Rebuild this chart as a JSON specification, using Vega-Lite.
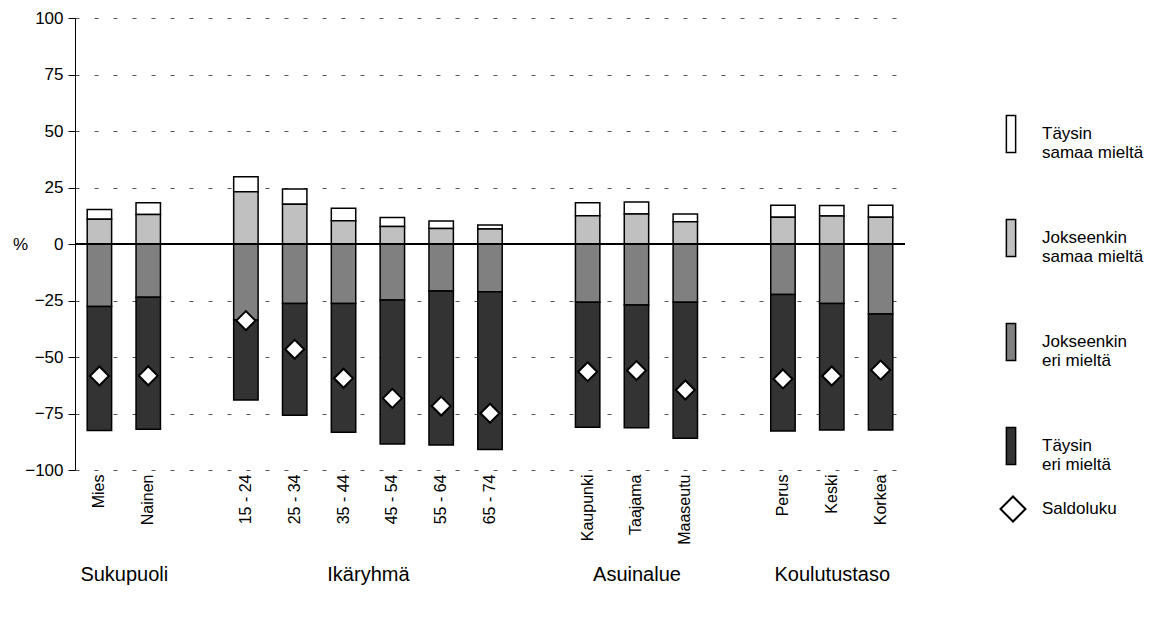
{
  "$schema": "https://vega.github.io/schema/vega-lite/v6.json",
  "width": 830,
  "height": 452,
  "autosize": {"type": "none"},
  "padding": {"left": 75, "top": 18, "right": 247, "bottom": 149},
  "background": "white",
  "config": {"view": {"stroke": null}, "font": "Liberation Sans"},
  "datasets": {
    "bars": [
      {"category": "Mies", "series": "Täysin samaa mieltä", "value": 4.4},
      {"category": "Mies", "series": "Jokseenkin samaa mieltä", "value": 10.9},
      {"category": "Mies", "series": "Jokseenkin eri mieltä", "value": -27.7},
      {"category": "Mies", "series": "Täysin eri mieltä", "value": -54.8},
      {"category": "Nainen", "series": "Täysin samaa mieltä", "value": 5.2},
      {"category": "Nainen", "series": "Jokseenkin samaa mieltä", "value": 13.1},
      {"category": "Nainen", "series": "Jokseenkin eri mieltä", "value": -23.6},
      {"category": "Nainen", "series": "Täysin eri mieltä", "value": -58.4},
      {"category": "15 - 24", "series": "Täysin samaa mieltä", "value": 6.7},
      {"category": "15 - 24", "series": "Jokseenkin samaa mieltä", "value": 23.1},
      {"category": "15 - 24", "series": "Jokseenkin eri mieltä", "value": -33.5},
      {"category": "15 - 24", "series": "Täysin eri mieltä", "value": -35.5},
      {"category": "25 - 34", "series": "Täysin samaa mieltä", "value": 6.7},
      {"category": "25 - 34", "series": "Jokseenkin samaa mieltä", "value": 17.6},
      {"category": "25 - 34", "series": "Jokseenkin eri mieltä", "value": -26.3},
      {"category": "25 - 34", "series": "Täysin eri mieltä", "value": -49.5},
      {"category": "35 - 44", "series": "Täysin samaa mieltä", "value": 5.5},
      {"category": "35 - 44", "series": "Jokseenkin samaa mieltä", "value": 10.3},
      {"category": "35 - 44", "series": "Jokseenkin eri mieltä", "value": -26.3},
      {"category": "35 - 44", "series": "Täysin eri mieltä", "value": -57.0},
      {"category": "45 - 54", "series": "Täysin samaa mieltä", "value": 4.0},
      {"category": "45 - 54", "series": "Jokseenkin samaa mieltä", "value": 7.7},
      {"category": "45 - 54", "series": "Jokseenkin eri mieltä", "value": -24.8},
      {"category": "45 - 54", "series": "Täysin eri mieltä", "value": -63.7},
      {"category": "55 - 64", "series": "Täysin samaa mieltä", "value": 3.3},
      {"category": "55 - 64", "series": "Jokseenkin samaa mieltä", "value": 6.9},
      {"category": "55 - 64", "series": "Jokseenkin eri mieltä", "value": -20.8},
      {"category": "55 - 64", "series": "Täysin eri mieltä", "value": -68.1},
      {"category": "65 - 74", "series": "Täysin samaa mieltä", "value": 1.8},
      {"category": "65 - 74", "series": "Jokseenkin samaa mieltä", "value": 6.6},
      {"category": "65 - 74", "series": "Jokseenkin eri mieltä", "value": -21.1},
      {"category": "65 - 74", "series": "Täysin eri mieltä", "value": -69.8},
      {"category": "Kaupunki", "series": "Täysin samaa mieltä", "value": 5.8},
      {"category": "Kaupunki", "series": "Jokseenkin samaa mieltä", "value": 12.5},
      {"category": "Kaupunki", "series": "Jokseenkin eri mieltä", "value": -25.8},
      {"category": "Kaupunki", "series": "Täysin eri mieltä", "value": -55.3},
      {"category": "Taajama", "series": "Täysin samaa mieltä", "value": 5.3},
      {"category": "Taajama", "series": "Jokseenkin samaa mieltä", "value": 13.3},
      {"category": "Taajama", "series": "Jokseenkin eri mieltä", "value": -27.0},
      {"category": "Taajama", "series": "Täysin eri mieltä", "value": -54.3},
      {"category": "Maaseutu", "series": "Täysin samaa mieltä", "value": 3.4},
      {"category": "Maaseutu", "series": "Jokseenkin samaa mieltä", "value": 9.9},
      {"category": "Maaseutu", "series": "Jokseenkin eri mieltä", "value": -25.8},
      {"category": "Maaseutu", "series": "Täysin eri mieltä", "value": -60.2},
      {"category": "Perus", "series": "Täysin samaa mieltä", "value": 5.3},
      {"category": "Perus", "series": "Jokseenkin samaa mieltä", "value": 11.8},
      {"category": "Perus", "series": "Jokseenkin eri mieltä", "value": -22.3},
      {"category": "Perus", "series": "Täysin eri mieltä", "value": -60.4},
      {"category": "Keski", "series": "Täysin samaa mieltä", "value": 4.6},
      {"category": "Keski", "series": "Jokseenkin samaa mieltä", "value": 12.4},
      {"category": "Keski", "series": "Jokseenkin eri mieltä", "value": -26.3},
      {"category": "Keski", "series": "Täysin eri mieltä", "value": -56.0},
      {"category": "Korkea", "series": "Täysin samaa mieltä", "value": 5.3},
      {"category": "Korkea", "series": "Jokseenkin samaa mieltä", "value": 11.8},
      {"category": "Korkea", "series": "Jokseenkin eri mieltä", "value": -31.0},
      {"category": "Korkea", "series": "Täysin eri mieltä", "value": -51.3}
    ],
    "saldo": [
      {"category": "Mies", "measure": "Saldoluku", "saldo": -58.4},
      {"category": "Nainen", "measure": "Saldoluku", "saldo": -58.3},
      {"category": "15 - 24", "measure": "Saldoluku", "saldo": -33.9},
      {"category": "25 - 34", "measure": "Saldoluku", "saldo": -46.6},
      {"category": "35 - 44", "measure": "Saldoluku", "saldo": -59.4},
      {"category": "45 - 54", "measure": "Saldoluku", "saldo": -68.3},
      {"category": "55 - 64", "measure": "Saldoluku", "saldo": -71.7},
      {"category": "65 - 74", "measure": "Saldoluku", "saldo": -74.9},
      {"category": "Kaupunki", "measure": "Saldoluku", "saldo": -56.5},
      {"category": "Taajama", "measure": "Saldoluku", "saldo": -56.0},
      {"category": "Maaseutu", "measure": "Saldoluku", "saldo": -64.6},
      {"category": "Perus", "measure": "Saldoluku", "saldo": -59.7},
      {"category": "Keski", "measure": "Saldoluku", "saldo": -58.4},
      {"category": "Korkea", "measure": "Saldoluku", "saldo": -55.8}
    ],
    "groups": [
      {"group": "Sukupuoli", "pos": 1},
      {"group": "Ikäryhmä", "pos": 6},
      {"group": "Asuinalue", "pos": 11.5},
      {"group": "Koulutustaso", "pos": 15.5}
    ]
  },
  "layer": [
    {
      "layer": [
        {
          "data": {"name": "bars"},
          "mark": {"type": "bar", "stroke": "black", "strokeWidth": 1.5},
          "encoding": {
            "x": {
              "field": "category",
              "type": "nominal",
              "scale": {
                "domain": ["Mies", "Nainen", " ", "15 - 24", "25 - 34", "35 - 44", "45 - 54", "55 - 64", "65 - 74", "  ", "Kaupunki", "Taajama", "Maaseutu", "   ", "Perus", "Keski", "Korkea"],
                "paddingInner": 0.5,
                "paddingOuter": 0.25
              },
              "axis": {
                "title": null,
                "labelAngle": -90,
                "labelAlign": "right",
                "labelBaseline": "middle",
                "labelFontSize": 16,
                "labelFont": "Liberation Sans",
                "labelColor": "black",
                "ticks": false,
                "domain": false,
                "grid": false,
                "labelPadding": 4
              }
            },
            "y": {
              "field": "value",
              "type": "quantitative",
              "stack": "zero",
              "scale": {"domain": [-100, 100], "nice": false},
              "axis": {
                "title": "%",
                "titleAngle": 0,
                "titleX": -55,
                "titleY": 226,
                "titleAlign": "center",
                "titleBaseline": "middle",
                "titleFontSize": 17,
                "titleFontWeight": "normal",
                "titleFont": "Liberation Sans",
                "titleColor": "black",
                "values": [-100, -75, -50, -25, 0, 25, 50, 75, 100],
                "grid": true,
                "gridDash": [4, 15],
                "gridColor": "#555555",
                "gridWidth": 1,
                "gridOpacity": 1,
                "tickColor": "black",
                "tickSize": 7,
                "domainColor": "black",
                "domainWidth": 1,
                "labelFontSize": 17,
                "labelColor": "black",
                "labelPadding": 5
              }
            },
            "fill": {
              "field": "series",
              "type": "nominal",
              "scale": {
                "domain": ["Täysin samaa mieltä", "Jokseenkin samaa mieltä", "Jokseenkin eri mieltä", "Täysin eri mieltä"],
                "range": ["#ffffff", "#c0c0c0", "#808080", "#333333"]
              },
              "legend": {
                "title": null,
                "orient": "none",
                "legendX": 916.5,
                "legendY": 96.5,
                "padding": 0,
                "symbolType": "M-0.25,-1L0.25,-1L0.25,1L-0.25,1Z",
                "symbolSize": 1369,
                "symbolStrokeColor": "black",
                "symbolStrokeWidth": 1.5,
                "symbolOpacity": 1,
                "rowPadding": 55,
                "labelOffset": 11.5,
                "labelFontSize": 17,
                "labelFont": "Liberation Sans",
                "labelColor": "black",
                "labelLimit": 300,
                "labelExpr": "[substring(datum.label, 0, indexof(datum.label, ' ')), substring(datum.label, indexof(datum.label, ' ') + 1)]"
              }
            },
            "order": {"field": "series", "sort": "ascending"}
          }
        },
        {
          "data": {"values": [{}]},
          "mark": {"type": "rule", "color": "black", "strokeWidth": 2},
          "encoding": {"y": {"datum": 0}}
        },
        {
          "data": {"name": "saldo"},
          "mark": {"type": "point", "filled": true, "stroke": "black", "strokeWidth": 2, "size": 361, "opacity": 1},
          "encoding": {
            "x": {"field": "category", "type": "nominal"},
            "y": {"field": "saldo", "type": "quantitative"},
            "color": {
              "field": "measure",
              "type": "nominal",
              "scale": {"range": ["#ffffff"]},
              "legend": {
                "title": null,
                "orient": "none",
                "legendX": 924.5,
                "legendY": 477.5,
                "padding": 0,
                "symbolSize": 625,
                "symbolStrokeWidth": 2,
                "symbolOpacity": 1,
                "labelOffset": 15.5,
                "labelFontSize": 17,
                "labelFont": "Liberation Sans",
                "labelColor": "black"
              }
            },
            "shape": {
              "field": "measure",
              "type": "nominal",
              "scale": {"range": ["diamond"]},
              "legend": {
                "title": null,
                "orient": "none",
                "legendX": 924.5,
                "legendY": 477.5,
                "padding": 0,
                "symbolSize": 625,
                "symbolStrokeWidth": 2,
                "symbolOpacity": 1,
                "labelOffset": 15.5,
                "labelFontSize": 17,
                "labelFont": "Liberation Sans",
                "labelColor": "black"
              }
            }
          }
        }
      ]
    },
    {
      "data": {"name": "groups"},
      "mark": {"type": "text", "text": ""},
      "encoding": {
        "x": {
          "field": "pos",
          "type": "quantitative",
          "scale": {"domain": [0, 17], "nice": false, "zero": false},
          "axis": {
            "orient": "bottom",
            "values": [1, 6, 11.5, 15.5],
            "labelExpr": "datum.value == 1 ? 'Sukupuoli' : datum.value == 6 ? 'Ikäryhmä' : datum.value == 11.5 ? 'Asuinalue' : 'Koulutustaso'",
            "title": null,
            "grid": false,
            "ticks": false,
            "domain": false,
            "offset": 94,
            "labelPadding": 0,
            "labelBaseline": "top",
            "labelFontSize": 20,
            "labelFont": "Liberation Sans",
            "labelColor": "black",
            "labelFlush": false,
            "labelOverlap": false
          }
        }
      }
    }
  ],
  "resolve": {"scale": {"x": "independent"}, "axis": {"x": "independent"}}
}
